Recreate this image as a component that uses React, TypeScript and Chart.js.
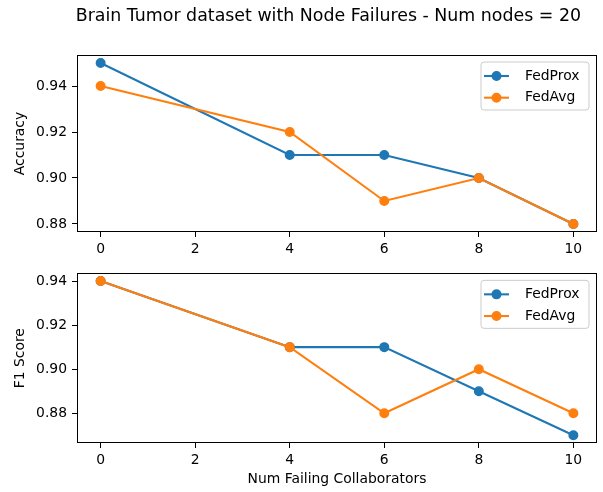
import React, { useEffect, useRef } from "react";
import { Chart, registerables } from "chart.js";

Chart.register(...registerables);

const failingCollaborators = [0, 4, 6, 8, 10];
const accuracyFedProx = [0.95, 0.91, 0.91, 0.9, 0.88];
const accuracyFedAvg = [0.94, 0.92, 0.89, 0.9, 0.88];
const f1FedProx = [0.94, 0.91, 0.91, 0.89, 0.87];
const f1FedAvg = [0.94, 0.91, 0.88, 0.9, 0.88];
const xTicks = [0, 2, 4, 6, 8, 10];
const accuracyTicks = [0.88, 0.9, 0.92, 0.94];
const f1Ticks = [0.88, 0.9, 0.92, 0.94];
const seriesNames = ["FedProx", "FedAvg"];
const seriesColors = ["#1f77b4", "#ff7f0e"];
const chartTitle = "Brain Tumor dataset with Node Failures - Num nodes = 20";
const xLabel = "Num Failing Collaborators";

const FONT = "DejaVu Sans";
const TICK_SIZE = 13.9;

function makeDatasets(a: number[], b: number[]) {
  return [a, b].map((vals, i) => ({
    label: seriesNames[i],
    data: failingCollaborators.map((x, j) => ({ x, y: vals[j] })),
    borderColor: seriesColors[i],
    backgroundColor: seriesColors[i],
    borderWidth: 2.08,
    pointRadius: 4.3,
    pointBorderWidth: 1.4,
    pointBackgroundColor: seriesColors[i],
    pointBorderColor: seriesColors[i],
    tension: 0,
    fill: false,
    order: i === 0 ? 2 : 1,
  }));
}

const framePlugin = {
  id: "frameLegend",
  afterDatasetsDraw(chart: any) {
    const { ctx, chartArea } = chart;
    const { left, right, top, bottom } = chartArea;
    ctx.save();
    // frame
    ctx.strokeStyle = "#000";
    ctx.lineWidth = 1;
    ctx.strokeRect(Math.round(left) + 0.5, Math.round(top) + 0.5, Math.round(right - left) - 1, Math.round(bottom - top) - 1);
    // legend
    const bw = 108;
    const bh = 48;
    const bx = right - 8 - bw;
    const by = top + 7;
    const r = 3;
    ctx.beginPath();
    ctx.moveTo(bx + r, by);
    ctx.lineTo(bx + bw - r, by);
    ctx.arcTo(bx + bw, by, bx + bw, by + r, r);
    ctx.lineTo(bx + bw, by + bh - r);
    ctx.arcTo(bx + bw, by + bh, bx + bw - r, by + bh, r);
    ctx.lineTo(bx + r, by + bh);
    ctx.arcTo(bx, by + bh, bx, by + bh - r, r);
    ctx.lineTo(bx, by + r);
    ctx.arcTo(bx, by, bx + r, by, r);
    ctx.closePath();
    ctx.fillStyle = "rgba(255,255,255,0.8)";
    ctx.fill();
    ctx.strokeStyle = "#cccccc";
    ctx.lineWidth = 1;
    ctx.stroke();
    chart.data.datasets.forEach((ds: any, i: number) => {
      const y = by + 14 + i * 21.7;
      ctx.strokeStyle = ds.borderColor;
      ctx.lineWidth = 2.08;
      ctx.beginPath();
      ctx.moveTo(bx + 3, y);
      ctx.lineTo(bx + 28, y);
      ctx.stroke();
      ctx.beginPath();
      ctx.arc(bx + 15.5, y, 4.3, 0, Math.PI * 2);
      ctx.fillStyle = ds.borderColor;
      ctx.fill();
      ctx.lineWidth = 1.4;
      ctx.stroke();
      ctx.fillStyle = "#000";
      ctx.font = `${TICK_SIZE}px "${FONT}"`;
      ctx.textBaseline = "middle";
      ctx.textAlign = "left";
      ctx.fillText(ds.label, bx + 44, y);
    });
    ctx.restore();
  },
};

const titlePlugin = {
  id: "suptitle",
  afterDraw(chart: any) {
    const { ctx } = chart;
    ctx.save();
    ctx.fillStyle = "#000";
    ctx.font = `17.4px "${FONT}"`;
    ctx.textAlign = "center";
    ctx.textBaseline = "alphabetic";
    ctx.fillText(chartTitle, 328.4, 20.7);
    ctx.restore();
  },
};

function makeConfig(
  a: number[],
  b: number[],
  yTicks: number[],
  yMin: number,
  yMax: number,
  yTitle: string,
  padTop: number,
  xHeight: number,
  showXTitle: boolean,
  withTitle: boolean
): any {
  return {
    type: "line",
    data: { datasets: makeDatasets(a, b) },
    plugins: withTitle ? [framePlugin, titlePlugin] : [framePlugin],
    options: {
      animation: false,
      responsive: false,
      maintainAspectRatio: false,
      layout: { padding: { top: padTop, right: 6, left: 0, bottom: 0 }, autoPadding: false },
      plugins: {
        legend: { display: false },
        tooltip: { enabled: false },
        title: { display: false },
      },
      scales: {
        x: {
          type: "linear",
          min: -0.5,
          max: 10.5,
          afterBuildTicks: (s: any) => {
            s.ticks = xTicks.map((v) => ({ value: v }));
          },
          afterFit: (s: any) => {
            s.height = xHeight;
          },
          grid: { drawOnChartArea: false, drawTicks: true, tickLength: 5, color: "#000", tickColor: "#000", lineWidth: 1 },
          border: { display: false },
          ticks: {
            padding: 4,
            autoSkip: false,
            maxRotation: 0,
            color: "#000",
            font: { family: FONT, size: TICK_SIZE },
            callback: (v: any) => String(v),
          },
          title: {
            display: showXTitle,
            text: xLabel,
            color: "#000",
            font: { family: FONT, size: TICK_SIZE },
            padding: { top: 0, bottom: 4.7 },
          },
        },
        y: {
          type: "linear",
          min: yMin,
          max: yMax,
          afterBuildTicks: (s: any) => {
            s.ticks = yTicks.map((v) => ({ value: v }));
          },
          afterFit: (s: any) => {
            s.width = 77;
          },
          grid: { drawOnChartArea: false, drawTicks: true, tickLength: 5, color: "#000", tickColor: "#000", lineWidth: 1 },
          border: { display: false },
          ticks: {
            padding: 5,
            autoSkip: false,
            color: "#000",
            font: { family: FONT, size: TICK_SIZE },
            callback: (v: any) => Number(v).toFixed(2),
          },
          title: {
            display: true,
            text: yTitle,
            color: "#000",
            font: { family: FONT, size: TICK_SIZE },
            padding: { top: 12.2, bottom: 0 },
          },
        },
      },
    },
  };
}

export default function App() {
  const topRef = useRef<HTMLCanvasElement | null>(null);
  const bottomRef = useRef<HTMLCanvasElement | null>(null);

  useEffect(() => {
    const top = new Chart(
      topRef.current as HTMLCanvasElement,
      makeConfig(accuracyFedProx, accuracyFedAvg, accuracyTicks, 0.8765, 0.9535, "Accuracy", 55, 28, false, true)
    );
    const bottom = new Chart(
      bottomRef.current as HTMLCanvasElement,
      makeConfig(f1FedProx, f1FedAvg, f1Ticks, 0.8665, 0.9435, "F1 Score", 7, 49, true, false)
    );
    return () => {
      top.destroy();
      bottom.destroy();
    };
  }, []);

  return (
    <div style={{ position: "absolute", left: 0, top: 0, width: 603, height: 492, background: "#fff" }}>
      <canvas ref={topRef} width={603} height={260} style={{ position: "absolute", left: 0, top: 0, width: 603, height: 260 }} />
      <canvas ref={bottomRef} width={603} height={232} style={{ position: "absolute", left: 0, top: 260, width: 603, height: 232 }} />
    </div>
  );
}
